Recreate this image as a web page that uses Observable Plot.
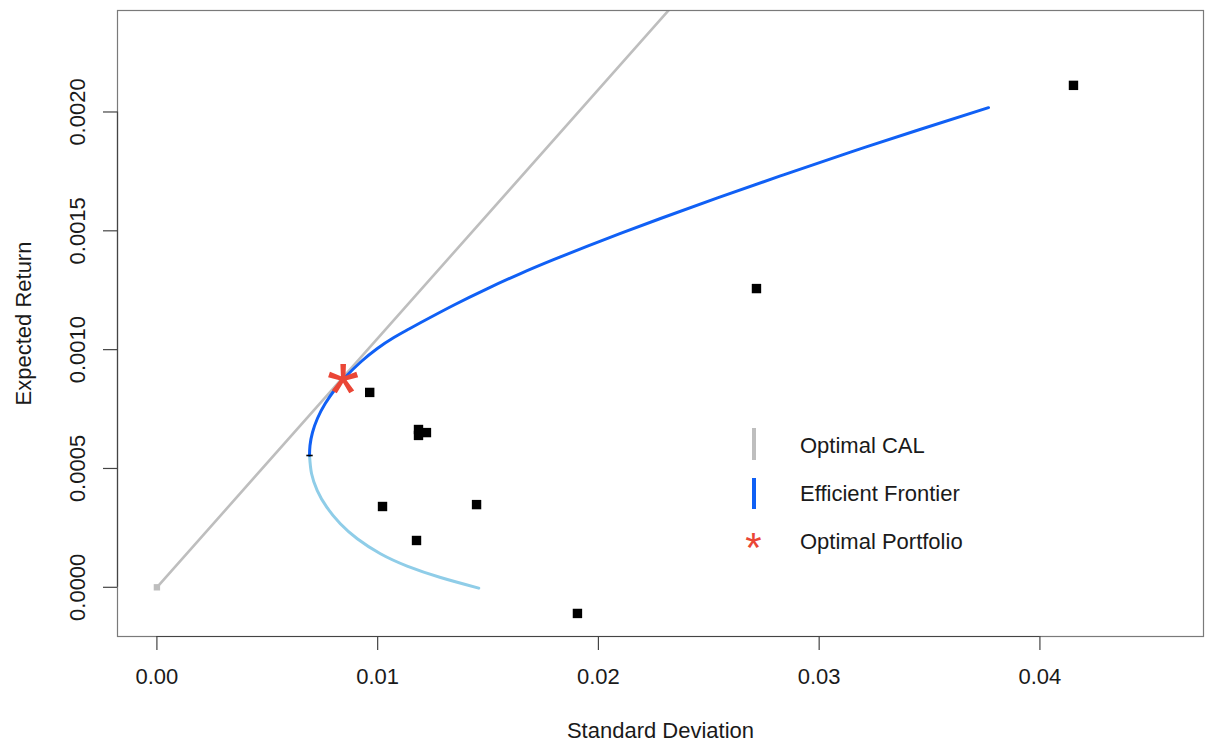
<!DOCTYPE html>
<html>
<head>
<meta charset="utf-8">
<script src="https://cdn.jsdelivr.net/npm/d3@7"></script>
<script src="https://cdn.jsdelivr.net/npm/@observablehq/plot@0.6"></script>
<style>
  body { margin: 0; background: #fff; }
  #wrap { position: relative; width: 1205px; height: 742px; font-family: "Liberation Sans", Arial, sans-serif; color: #1a1a1a; }
  #wrap svg { display: block; }
  .lg { position: absolute; font-size: 22px; line-height: 22px; white-space: nowrap; }
  .bar { position: absolute; width: 4px; }
  .lgstar { position: absolute; font-size: 42px; line-height: 42px; width: 41px; text-align: center; color: #ea4636; }
</style>
</head>
<body>
<div id="wrap"></div>
<script>
// ---- data ----
const assetSD  = [0.04152, 0.02716, 0.00964, 0.01185, 0.01185, 0.01221, 0.01022, 0.01448, 0.01176, 0.01905];
const assetRet = [0.002112, 0.001257, 0.000820, 0.000664, 0.000639, 0.000651, 0.000340, 0.000348, 0.000197, -0.000110];

const upperSD  = [0.006913, 0.006935, 0.007047, 0.007271, 0.007626, 0.008097, 0.008560, 0.009257, 0.009985, 0.010734, 0.011351, 0.011936, 0.013436, 0.014976, 0.016471, 0.017966, 0.019506, 0.021001, 0.022813, 0.025395, 0.028385, 0.031420, 0.034455, 0.037672];
const upperRet = [0.0005546, 0.0005967, 0.0006514, 0.0007103, 0.0007734, 0.0008365, 0.000887, 0.0009501, 0.001005, 0.001051, 0.0010835, 0.001113, 0.0011868, 0.0012569, 0.0013201, 0.0013785, 0.0014357, 0.0014892, 0.0015519, 0.0016385, 0.0017357, 0.0018311, 0.0019232, 0.0020181];

const lowerSD  = [0.006913, 0.007007, 0.007264, 0.007694, 0.008309, 0.009077, 0.010125, 0.011335, 0.012849, 0.014581];
const lowerRet = [0.0005546, 0.0004776, 0.0004073, 0.0003370, 0.0002672, 0.0002041, 0.0001410, 0.0000892, 0.0000412, -0.0000034];

const calSD  = [0, 0.03];
const calRet = [0, 0.003142];

const optimalSD  = [0.00843];
const optimalRet = [0.000883];

const minVarSD  = [0.006913];
const minVarRet = [0.0005546];

const xTicks = [0, 0.01, 0.02, 0.03, 0.04];
const yTicks = [0, 0.0005, 0.001, 0.0015, 0.002];
const xDomain = [-0.001785, 0.04741];
const yDomain = [-0.000207, 0.002427];

const xLabel = "Standard Deviation";
const yLabel = "Expected Return";
const legendLabels = ["Optimal CAL", "Efficient Frontier", "Optimal Portfolio"];

// ---- tables ----
const assets = assetSD.map((s, i) => ({sd: s, ret: assetRet[i]}));
const upper = upperSD.map((s, i) => ({sd: s, ret: upperRet[i]}));
const lower = lowerSD.map((s, i) => ({sd: s, ret: lowerRet[i]}));
const cal = calSD.map((s, i) => ({sd: s, ret: calRet[i]}));
const optimal = optimalSD.map((s, i) => ({sd: s, ret: optimalRet[i]}));
const minVar = minVarSD.map((s, i) => ({sd: s, ret: minVarRet[i]}));

const dashSymbol = {
  draw(ctx, size) {
    const w = Math.sqrt(size) / 2;
    ctx.moveTo(-w, 0);
    ctx.lineTo(w, 0);
  }
};

const font = '"Liberation Sans", Arial, sans-serif';
const starSize = 84;
const chart = Plot.plot({
  width: 1205,
  height: 742,
  marginLeft: 117,
  marginRight: 2,
  marginTop: 10,
  marginBottom: 106,
  style: {fontFamily: font, fontSize: "22px", color: "#1a1a1a", background: "#fff"},
  x: {domain: xDomain},
  y: {domain: yDomain},
  marks: [
    Plot.line(cal, {x: "sd", y: "ret", stroke: "#bebebe", strokeWidth: 2.6, clip: true}),
    Plot.dot(cal.slice(0, 1), {x: "sd", y: "ret", symbol: "square", r: 3.6, fill: "#bebebe"}),
    Plot.line(lower, {x: "sd", y: "ret", stroke: "#8fcde8", strokeWidth: 3, curve: "natural"}),
    Plot.line(upper, {x: "sd", y: "ret", stroke: "#1060f5", strokeWidth: 3, curve: "natural"}),
    Plot.dot(minVar, {x: "sd", y: "ret", symbol: dashSymbol, r: 3.6, stroke: "#000", strokeWidth: 1.6, fill: "none"}),
    Plot.dot(assets, {x: "sd", y: "ret", symbol: "square", r: 5.3, fill: "#000"}),
    Plot.text(optimal, {x: "sd", y: "ret", text: () => "*", fontSize: starSize, fill: "#ea4636", dy: starSize * 0.21, fontFamily: font}),
    Plot.frame({stroke: "#7a7a7a", strokeWidth: 1.2}),
    Plot.ruleY([yDomain[0]], {x1: xTicks[0], x2: xTicks[xTicks.length - 1], stroke: "#444", strokeWidth: 1.2}),
    Plot.ruleX([xDomain[0]], {y1: yTicks[0], y2: yTicks[yTicks.length - 1], stroke: "#444", strokeWidth: 1.2}),
    Plot.axisX({ticks: xTicks, tickSize: 14, tickPadding: 18, tickFormat: d3.format(".2f"), stroke: "#444", strokeWidth: 1.2, label: null}),
    Plot.axisY({ticks: yTicks, tickSize: 14, tickFormat: () => "", stroke: "#444", strokeWidth: 1.2, label: null}),
    Plot.text(yTicks, {y: d => d, frameAnchor: "left", dx: -40, rotate: -90, text: d3.format(".4f"), textAnchor: "middle", lineAnchor: "middle", fill: "#1a1a1a"}),
    Plot.text([xLabel], {frameAnchor: "bottom", dy: 94, textAnchor: "middle", lineAnchor: "middle", fill: "#1a1a1a"}),
    Plot.text([yLabel], {frameAnchor: "left", dx: -94, rotate: -90, textAnchor: "middle", lineAnchor: "middle", fill: "#1a1a1a"})
  ]
});

const wrap = document.getElementById("wrap");
wrap.appendChild(chart);

// ---- legend (inside plot area, as in the reference) ----
function add(cls, css, text) {
  const el = document.createElement("div");
  el.className = cls;
  Object.assign(el.style, css);
  if (text) el.textContent = text;
  wrap.appendChild(el);
}
add("bar", {left: "752px", top: "428px", height: "32px", background: "#bebebe"});
add("lg", {left: "800px", top: "434.5px"}, legendLabels[0]);
add("bar", {left: "752px", top: "478px", height: "31px", background: "#1060f5"});
add("lg", {left: "800px", top: "483px"}, legendLabels[1]);
add("lgstar", {left: "733px", top: "527px"}, "*");
add("lg", {left: "800px", top: "531px"}, legendLabels[2]);
</script>
</body>
</html>
